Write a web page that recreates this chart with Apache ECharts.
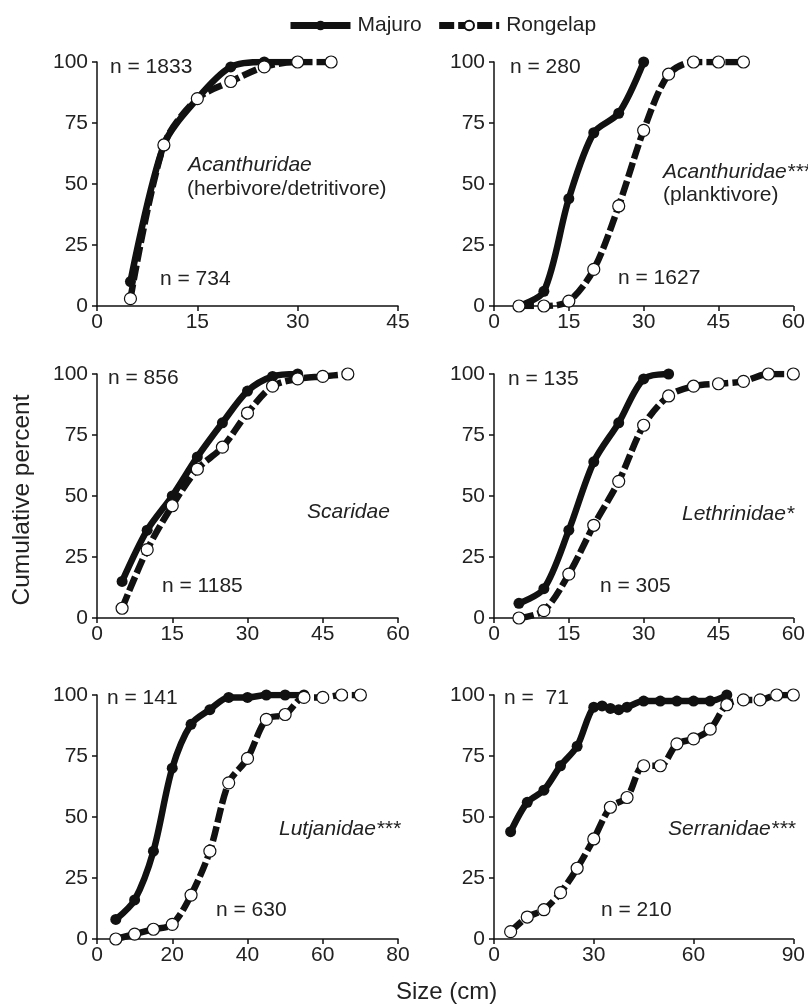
<!DOCTYPE html>
<html>
<head>
<meta charset="utf-8">
<script src="https://cdn.jsdelivr.net/npm/echarts@6/dist/echarts.min.js"></script>
<style>
html,body{margin:0;padding:0;background:#fff;}
#chart{width:808px;height:1006px;}
</style>
</head>
<body>
<div id="chart"></div>
<script>
// ---- Data (size in cm, cumulative percent) ----
const seriesNames = ['Majuro', 'Rongelap'];
const yTicks = [0, 25, 50, 75, 100];

// Panel 1: Acanthuridae (herbivore/detritivore)
const acanHerbMajuroSize = [5, 10, 15, 20, 25, 30];
const acanHerbMajuroPct  = [10, 66, 85, 98, 100, 100];
const acanHerbRongSize   = [5, 10, 15, 20, 25, 30, 35];
const acanHerbRongPct    = [3, 66, 85, 92, 98, 100, 100];

// Panel 2: Acanthuridae*** (planktivore)
const acanPlankMajuroSize = [5, 10, 15, 20, 25, 30];
const acanPlankMajuroPct  = [0, 6, 44, 71, 79, 100];
const acanPlankRongSize   = [5, 10, 15, 20, 25, 30, 35, 40, 45, 50];
const acanPlankRongPct    = [0, 0, 2, 15, 41, 72, 95, 100, 100, 100];

// Panel 3: Scaridae
const scarMajuroSize = [5, 10, 15, 20, 25, 30, 35, 40];
const scarMajuroPct  = [15, 36, 50, 66, 80, 93, 99, 100];
const scarRongSize   = [5, 10, 15, 20, 25, 30, 35, 40, 45, 50];
const scarRongPct    = [4, 28, 46, 61, 70, 84, 95, 98, 99, 100];

// Panel 4: Lethrinidae*
const lethMajuroSize = [5, 10, 15, 20, 25, 30, 35];
const lethMajuroPct  = [6, 12, 36, 64, 80, 98, 100];
const lethRongSize   = [5, 10, 15, 20, 25, 30, 35, 40, 45, 50, 55, 60];
const lethRongPct    = [0, 3, 18, 38, 56, 79, 91, 95, 96, 97, 100, 100];

// Panel 5: Lutjanidae***
const lutjMajuroSize = [5, 10, 15, 20, 25, 30, 35, 40, 45, 50, 55];
const lutjMajuroPct  = [8, 16, 36, 70, 88, 94, 99, 99, 100, 100, 100];
const lutjRongSize   = [5, 10, 15, 20, 25, 30, 35, 40, 45, 50, 55, 60, 65, 70];
const lutjRongPct    = [0, 2, 4, 6, 18, 36, 64, 74, 90, 92, 99, 99, 100, 100];

// Panel 6: Serranidae***
const serrMajuroSize = [5, 10, 15, 20, 25, 30, 32.5, 35, 37.5, 40, 45, 50, 55, 60, 65, 70];
const serrMajuroPct  = [44, 56, 61, 71, 79, 95, 95.5, 94.5, 94, 95, 97.5, 97.5, 97.5, 97.5, 97.5, 100];
const serrRongSize   = [5, 10, 15, 20, 25, 30, 35, 40, 45, 50, 55, 60, 65, 70, 75, 80, 85, 90];
const serrRongPct    = [3, 9, 12, 19, 29, 41, 54, 58, 71, 71, 80, 82, 86, 96, 98, 98, 100, 100];

// x-axis ranges per panel
const xMax      = [45, 60, 60, 60, 80, 90];
const xInterval = [15, 15, 15, 15, 20, 30];

// annotation texts per panel
const panelLabels = [
  ['n = 1833', 'Acanthuridae', '(herbivore/detritivore)', 'n = 734'],
  ['n = 280', 'Acanthuridae***', '(planktivore)', 'n = 1627'],
  ['n = 856', 'Scaridae', '', 'n = 1185'],
  ['n = 135', 'Lethrinidae*', '', 'n = 305'],
  ['n = 141', 'Lutjanidae***', '', 'n = 630'],
  ['n =  71', 'Serranidae***', '', 'n = 210']
];

const panels = [
  [acanHerbMajuroSize, acanHerbMajuroPct, acanHerbRongSize, acanHerbRongPct],
  [acanPlankMajuroSize, acanPlankMajuroPct, acanPlankRongSize, acanPlankRongPct],
  [scarMajuroSize, scarMajuroPct, scarRongSize, scarRongPct],
  [lethMajuroSize, lethMajuroPct, lethRongSize, lethRongPct],
  [lutjMajuroSize, lutjMajuroPct, lutjRongSize, lutjRongPct],
  [serrMajuroSize, serrMajuroPct, serrRongSize, serrRongPct]
];

// ---- Layout ----
const FONT = "'Liberation Sans', Arial, Helvetica, sans-serif";
const gridLeft = [97, 494];
const gridTop = [62, 374, 695];
const gridW = 301, gridH = 244;

// annotation positions (left x, middle y) per panel, relative to page
const labelPos = [
  [[110, 68], [188, 166], [187, 190], [160, 280]],
  [[510, 68], [663, 173], [663, 196], [618, 279]],
  [[108, 379], [307, 513], null, [162, 587]],
  [[508, 380], [682, 515], null, [600, 587]],
  [[107, 699], [279, 830], null, [216, 911]],
  [[504, 699], [668, 830], null, [601, 911]]
];

const zip = (xs, ys) => xs.map((x, i) => [x, ys[i]]);

const LW = 6.5;
const SMOOTH = 0.3;
const grids = [], xAxes = [], yAxes = [], series = [], graphics = [];
for (let p = 0; p < 6; p++) {
  const col = p % 2, row = Math.floor(p / 2);
  grids.push({ left: gridLeft[col], top: gridTop[row], width: gridW, height: gridH });
  xAxes.push({
    type: 'value', gridIndex: p, min: 0, max: xMax[p], interval: xInterval[p],
    axisLine: { lineStyle: { color: '#111', width: 1.5 } },
    axisTick: { length: 5, lineStyle: { color: '#111', width: 1.5 } },
    axisLabel: { color: '#222', fontSize: 21, fontFamily: FONT, margin: 6 },
    splitLine: { show: false }
  });
  yAxes.push({
    type: 'value', gridIndex: p, min: yTicks[0], max: yTicks[yTicks.length - 1], interval: 25,
    axisLine: { show: true, lineStyle: { color: '#111', width: 1.5 } },
    axisTick: { show: true, length: 5, lineStyle: { color: '#111', width: 1.5 } },
    axisLabel: { color: '#222', fontSize: 21, fontFamily: FONT, margin: 9 },
    splitLine: { show: false }
  });
  const d = panels[p];
  series.push({
    name: seriesNames[0], type: 'line', xAxisIndex: p, yAxisIndex: p,
    data: zip(d[0], d[1]), smooth: SMOOTH,
    symbol: 'circle', symbolSize: 11,
    lineStyle: { color: '#111', width: LW },
    itemStyle: { color: '#111', borderColor: '#111', borderWidth: 0 },
    z: 2
  });
  series.push({
    name: seriesNames[1], type: 'line', xAxisIndex: p, yAxisIndex: p,
    data: zip(d[2], d[3]), smooth: SMOOTH,
    symbol: 'circle', symbolSize: 12,
    lineStyle: { color: '#111', width: LW, type: [15, 4] },
    itemStyle: { color: '#fff', borderColor: '#111', borderWidth: 1.2 },
    z: 3
  });
  const labs = panelLabels[p];
  for (let k = 0; k < 4; k++) {
    if (!labs[k] || !labelPos[p][k]) continue;
    graphics.push({
      type: 'text', left: labelPos[p][k][0], top: labelPos[p][k][1] - 11,
      style: {
        text: labs[k], fill: '#222', fontSize: 21, fontFamily: FONT,
        fontStyle: (k === 1) ? 'italic' : 'normal'
      }
    });
  }
}

graphics.push({
  type: 'text', x: 22, y: 500, rotation: Math.PI / 2,
  style: { text: 'Cumulative percent', fill: '#222', fontSize: 24.5, fontFamily: FONT, align: 'center', verticalAlign: 'middle' }
});
graphics.push({
  type: 'text', left: 396, top: 980,
  style: { text: 'Size (cm)', fill: '#222', fontSize: 24, fontFamily: FONT }
});

const option = {
  animation: false,
  backgroundColor: '#fff',
  legend: {
    data: seriesNames, left: 282, top: 10,
    itemWidth: 60, itemHeight: 12, itemGap: 14,
    lineStyle: { width: 7 },
    textStyle: { color: '#222', fontSize: 21, fontFamily: FONT, padding: [0, 0, 0, 2] }
  },
  grid: grids, xAxis: xAxes, yAxis: yAxes, series: series, graphic: graphics
};

const chart = echarts.init(document.getElementById('chart'));
chart.setOption(option);
</script>
</body>
</html>
